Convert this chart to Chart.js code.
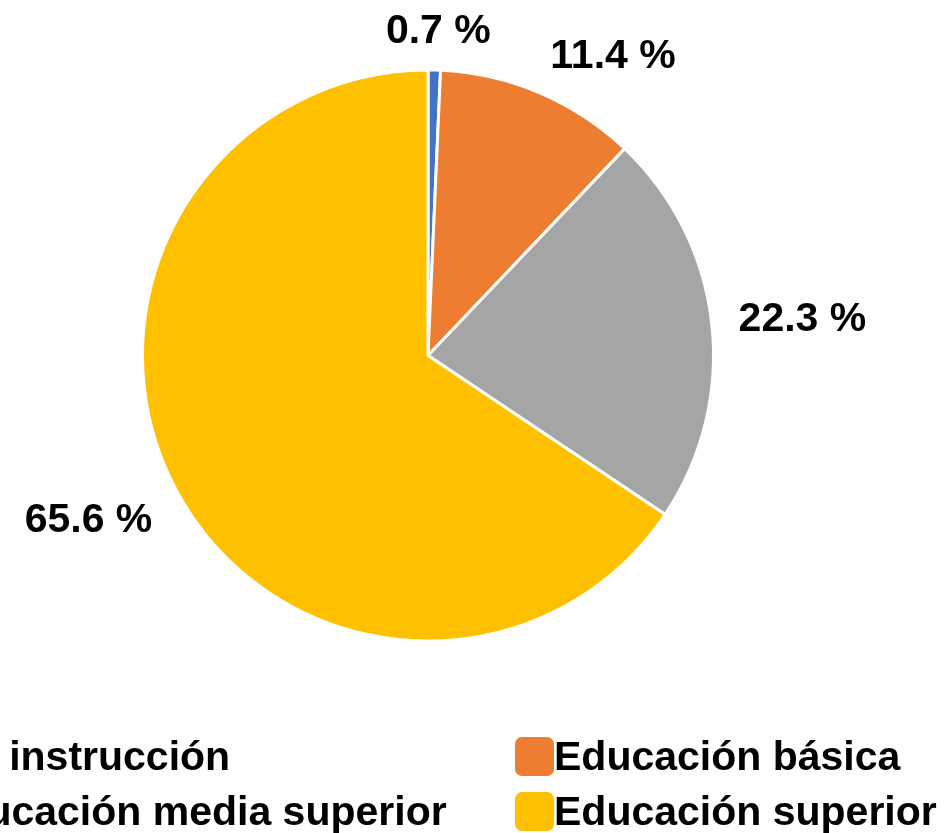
<!DOCTYPE html>
<html>
<head>
<meta charset="utf-8">
<script src="https://cdn.jsdelivr.net/npm/chart.js@4/dist/chart.umd.min.js"></script>
<style>
  html, body { margin: 0; padding: 0; background: #fff; overflow: hidden; width: 952px; height: 833px; }
  #wrap { position: relative; width: 952px; height: 833px; overflow: hidden; }
  #pie { position: absolute; left: 0; top: 0; }
  .leg { position: absolute; display: flex; align-items: center; height: 40px;
         font: bold 41px "Liberation Sans", Arial, sans-serif; line-height: 40px; color: #000; white-space: nowrap; }
  .leg span.box { display: inline-block; width: 39px; height: 39px; border-radius: 7px; margin-right: 0; }
</style>
</head>
<body>
<div id="wrap">
  <canvas id="pie" width="952" height="833"></canvas>
  <div id="legend"></div>
</div>
<script>
// datos
const categorias = ['Sin instrucción', 'Educación básica', 'Educación media superior', 'Educación superior'];
const porcentajes = [0.7, 11.4, 22.3, 65.6];
const colores = ['#4472C4', '#ED7D31', '#A5A5A5', '#FFC000'];

// etiquetas fuera del pastel, estilo Excel
const etiquetasPlugin = {
    id: 'etiquetas',
    afterDatasetsDraw(chart) {
        const ctx = chart.ctx;
        const meta = chart.getDatasetMeta(0);
        const size = 41;
        const gap = 27;
        const capH = size * 0.72;
        ctx.save();
        ctx.font = 'bold ' + size + 'px "Liberation Sans", Arial, sans-serif';
        ctx.fillStyle = '#000';
        ctx.textAlign = 'center';
        ctx.textBaseline = 'alphabetic';
        meta.data.forEach((arc, i) => {
            const p = arc.getProps(['x', 'y', 'startAngle', 'endAngle', 'outerRadius'], true);
            const mid = (p.startAngle + p.endAngle) / 2;
            const cx = Math.cos(mid), sy = Math.sin(mid);
            const ax = p.x + (p.outerRadius + gap) * cx;
            const ay = p.y + (p.outerRadius + gap) * sy;
            const txt = porcentajes[i].toFixed(1) + ' %';
            const w = ctx.measureText(txt).width;
            const clamp = v => Math.max(-1, Math.min(1, v * 3));
            const tx = ax + (w / 2) * clamp(cx);
            const ty = ay + (capH / 2) * clamp(sy);
            ctx.fillText(txt, tx, ty + capH / 2);
        });
        ctx.restore();
    }
};

const chart = new Chart(document.getElementById('pie'), {
    type: 'pie',
    data: {
        labels: categorias,
        datasets: [{
            data: porcentajes,
            backgroundColor: colores,
            borderColor: '#ffffff',
            borderWidth: 3
        }]
    },
    options: {
        responsive: false,
        animation: false,
        layout: { padding: { left: 141, right: 237, top: 68, bottom: 190 } },
        plugins: {
            legend: { display: false },
            tooltip: { enabled: false }
        }
    },
    plugins: [etiquetasPlugin]
});

// leyenda en dos columnas (la izquierda queda cortada como en el original)
const legend = document.getElementById('legend');
const colX = [-105, 515];
const rowY = [736, 791];
categorias.forEach((cat, i) => {
    const item = document.createElement('div');
    item.className = 'leg';
    item.style.left = colX[i % 2] + 'px';
    item.style.top = rowY[Math.floor(i / 2)] + 'px';
    const box = document.createElement('span');
    box.className = 'box';
    box.style.background = colores[i];
    const label = document.createElement('span');
    label.textContent = cat;
    item.appendChild(box);
    item.appendChild(label);
    legend.appendChild(item);
});
</script>
</body>
</html>
